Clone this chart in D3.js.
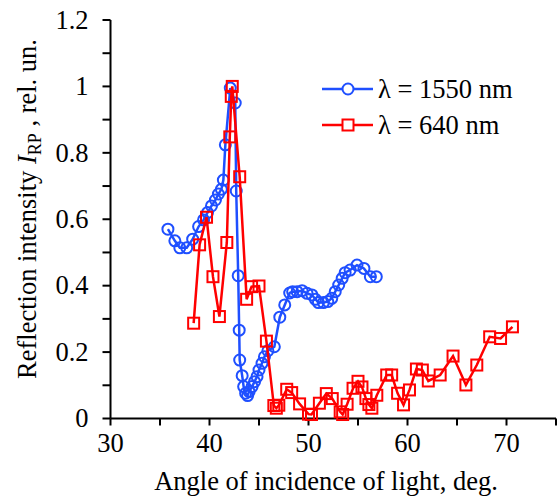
<!DOCTYPE html>
<html>
<head>
<meta charset="utf-8">
<script src="https://cdn.jsdelivr.net/npm/d3@7"></script>
<style>
  body { margin: 0; background: #fff; }
</style>
</head>
<body>
<svg id="chart" width="558" height="497" font-family="'Liberation Serif', 'Times New Roman', serif"></svg>
<script>
// Reflection intensity vs angle of incidence, two wavelengths
const angle1550 = [35.8, 36.5, 37.0, 37.7, 38.3, 38.9, 39.4, 39.8, 40.2, 40.6, 40.9, 41.2, 41.4, 41.6, 42.1, 42.6, 42.7, 42.9, 43.0, 43.05, 43.3, 43.45, 43.65, 43.85, 44.0, 44.3, 44.55, 44.8, 45.0, 45.3, 45.55, 45.9, 46.55, 47.1, 47.6, 48.1, 48.4, 48.85, 49.35, 49.85, 50.35, 50.7, 51.0, 51.5, 51.95, 52.35, 52.7, 53.05, 53.4, 53.7, 54.2, 54.9, 55.6, 56.25, 56.85];
const int1550   = [0.570, 0.535, 0.514, 0.514, 0.540, 0.578, 0.598, 0.620, 0.640, 0.658, 0.676, 0.690, 0.718, 0.824, 0.995, 0.950, 0.685, 0.430, 0.266, 0.176, 0.129, 0.096, 0.076, 0.069, 0.081, 0.096, 0.111, 0.126, 0.146, 0.166, 0.186, 0.204, 0.216, 0.305, 0.342, 0.378, 0.382, 0.382, 0.385, 0.377, 0.372, 0.359, 0.349, 0.349, 0.352, 0.362, 0.382, 0.402, 0.422, 0.439, 0.447, 0.462, 0.452, 0.427, 0.427];

const angle640 = [38.4, 39.0, 39.7, 40.35, 41.0, 41.75, 42.05, 42.2, 42.3, 43.05, 43.75, 44.25, 45.0, 45.75, 46.5, 46.75, 47.0, 47.8, 48.3, 49.1, 50.0, 50.3, 51.1, 51.8, 52.4, 53.2, 53.45, 53.9, 54.5, 55.0, 55.4, 55.8, 56.1, 56.4, 56.9, 57.9, 58.4, 59.0, 59.6, 60.2, 60.9, 61.5, 62.1, 63.3, 64.6, 65.9, 67.0, 68.3, 69.4, 70.6];
const int640   = [0.287, 0.523, 0.606, 0.427, 0.307, 0.530, 0.848, 0.970, 1.000, 0.728, 0.359, 0.397, 0.399, 0.233, 0.039, 0.031, 0.040, 0.088, 0.078, 0.044, 0.013, 0.012, 0.046, 0.075, 0.060, 0.020, 0.012, 0.043, 0.091, 0.112, 0.095, 0.060, 0.042, 0.031, 0.070, 0.131, 0.131, 0.076, 0.041, 0.086, 0.149, 0.146, 0.113, 0.131, 0.188, 0.101, 0.161, 0.246, 0.241, 0.276];

const xTickValues = [30, 40, 50, 60, 70];
const yTickValues = [0, 0.2, 0.4, 0.6, 0.8, 1, 1.2];
const seriesNames = ["λ = 1550 nm", "λ = 640 nm"];
const seriesColors = ["#1f4fff", "#ff0000"];

const svg = d3.select("#chart");
const plotLeft = 110.5, plotRight = 556, plotTop = 20, plotBottom = 418.5;
const fontSize = 26.5;

const x = d3.scaleLinear().domain([30, 75]).range([plotLeft, plotRight]);
const y = d3.scaleLinear().domain([0, 1.2]).range([plotBottom, plotTop]);

// axes
const xAxis = svg.append("g").attr("transform", `translate(0,${plotBottom})`);
xAxis.append("line").attr("x1", plotLeft).attr("x2", plotRight).attr("stroke", "#000").attr("stroke-width", 2);
xAxis.selectAll(".xt").data(d3.range(30, 76, 5)).join("line")
  .attr("x1", d => x(d)).attr("x2", d => x(d)).attr("y1", 0).attr("y2", 7)
  .attr("stroke", "#000").attr("stroke-width", 2);
xAxis.selectAll(".xl").data(xTickValues).join("text")
  .attr("x", d => x(d)).attr("y", 33).attr("text-anchor", "middle")
  .attr("font-size", fontSize).text(d => d);

const yAxis = svg.append("g").attr("transform", `translate(${plotLeft},0)`);
yAxis.append("line").attr("y1", plotTop).attr("y2", plotBottom).attr("stroke", "#000").attr("stroke-width", 2);
yAxis.selectAll(".yt").data(d3.range(0, 13).map(i => i / 10)).join("line")
  .attr("x1", -8).attr("x2", 0).attr("y1", d => y(d)).attr("y2", d => y(d))
  .attr("stroke", "#000").attr("stroke-width", 2);
yAxis.selectAll(".yl").data(yTickValues).join("text")
  .attr("x", -22).attr("y", d => y(d)).attr("dy", "0.33em").attr("text-anchor", "end")
  .attr("font-size", fontSize).text(d => d3.format("~g")(d));

// axis titles
svg.append("text").attr("x", 326).attr("y", 490)
  .attr("text-anchor", "middle").attr("font-size", fontSize).text("Angle of incidence of light, deg.");

const yt = svg.append("text").attr("transform", "translate(36,209) rotate(-90)")
  .attr("text-anchor", "middle").attr("font-size", fontSize);
yt.append("tspan").text("Reflection intensity ");
yt.append("tspan").attr("font-style", "italic").text("I");
yt.append("tspan").attr("font-size", 18).attr("dy", 5).text("RP");
yt.append("tspan").attr("dy", -5).text(" , rel. un.");

// series
const line = d3.line().x(d => x(d[0])).y(d => y(d[1]));
const blue = angle1550.map((a, i) => [a, int1550[i]]);
const red = angle640.map((a, i) => [a, int640[i]]);

svg.append("path").datum(blue).attr("d", line).attr("fill", "none")
  .attr("stroke", seriesColors[0]).attr("stroke-width", 2.5);
svg.append("g").selectAll("circle").data(blue).join("circle")
  .attr("cx", d => x(d[0])).attr("cy", d => y(d[1])).attr("r", 5.5)
  .attr("fill", "none").attr("stroke", seriesColors[0]).attr("stroke-width", 2);

svg.append("path").datum(red).attr("d", line).attr("fill", "none")
  .attr("stroke", seriesColors[1]).attr("stroke-width", 2.5);
svg.append("g").selectAll("rect").data(red).join("rect")
  .attr("x", d => x(d[0]) - 5.5).attr("y", d => y(d[1]) - 5.5)
  .attr("width", 11).attr("height", 11)
  .attr("fill", "none").attr("stroke", seriesColors[1]).attr("stroke-width", 2);

// legend
const legend = svg.append("g");
seriesNames.forEach((name, i) => {
  const ly = 89 + i * 36;
  legend.append("line").attr("x1", 322).attr("x2", 373).attr("y1", ly).attr("y2", ly)
    .attr("stroke", seriesColors[i]).attr("stroke-width", 2.5);
  if (i === 0) {
    legend.append("circle").attr("cx", 348).attr("cy", ly).attr("r", 5.5)
      .attr("fill", "#fff").attr("stroke", seriesColors[i]).attr("stroke-width", 2);
  } else {
    legend.append("rect").attr("x", 342.5).attr("y", ly - 5.5).attr("width", 11).attr("height", 11)
      .attr("fill", "#fff").attr("stroke", seriesColors[i]).attr("stroke-width", 2);
  }
  legend.append("text").attr("x", 378).attr("y", ly).attr("dy", "0.33em")
    .attr("font-size", fontSize).text(name);
});
</script>
</body>
</html>
